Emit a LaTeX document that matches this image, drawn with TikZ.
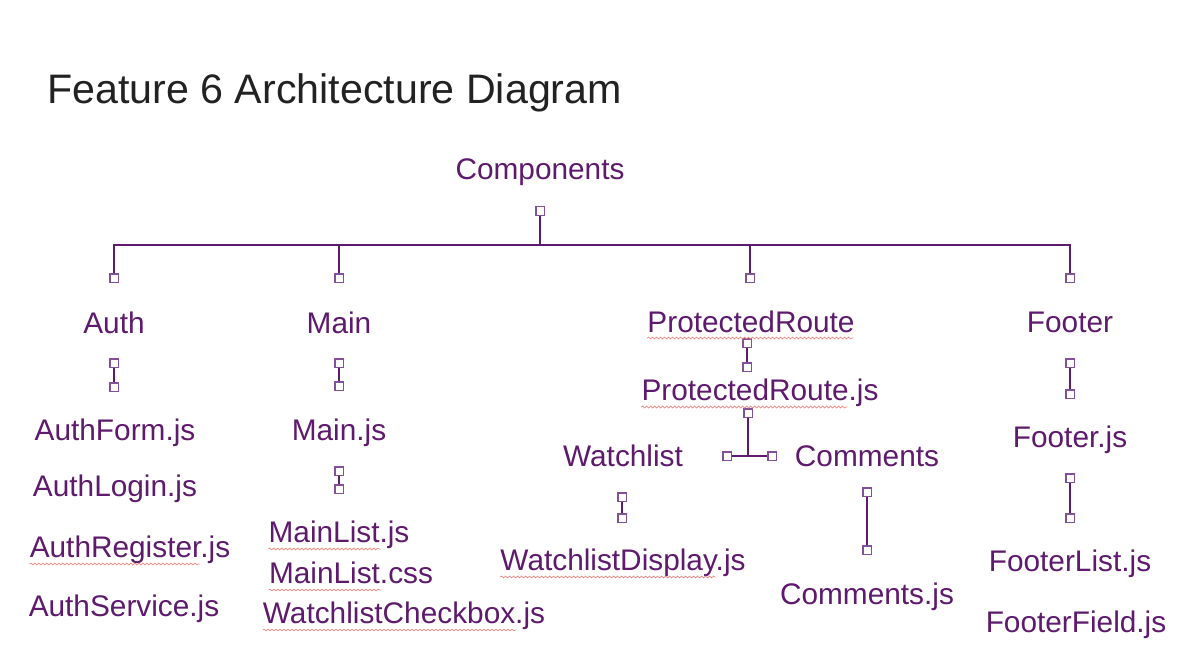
\documentclass[tikz,border=0pt]{standalone}
\usepackage{fontspec}
\setmainfont{Liberation Sans}
\usetikzlibrary{decorations.pathmorphing}
\definecolor{plum}{HTML}{5E1A6C}
\definecolor{pinline}{HTML}{84509A}
\definecolor{typored}{HTML}{F2847E}
\definecolor{ink}{HTML}{222222}

\begin{document}
\begin{tikzpicture}[x=1pt,y=-1pt,
  lbl/.style={text=plum,font=\fontsize{29.8}{34}\selectfont,inner sep=0pt,anchor=base},
  pin/.style={rectangle,draw=pinline,fill=white,line width=1.5pt,minimum size=8.5pt,inner sep=0pt},
  link/.style={draw=plum,line width=1.5pt},
  typo/.style={draw=typored,line width=0.7pt,decorate,decoration={snake,amplitude=0.9pt,segment length=4pt}}]
\useasboundingbox (0,0) rectangle (1180,647);
\node[anchor=base west,inner sep=0pt,text=ink,font=\fontsize{41.2}{46}\selectfont] (title) at (47,104) {Feature 6 Architecture Diagram};
% labels
\foreach \n/\x/\y/\t in %
{comp/540/180/Components, auth/114/333/Auth, main/339/333/Main,
 prot/751/332/ProtectedRoute, foot/1070/332/Footer,
 authform/115/440/AuthForm.js, authlogin/115/496/AuthLogin.js,
 authreg/130/557/AuthRegister.js, authserv/124/616/AuthService.js,
 mainjs/339/440/Main.js, mainlist/339/542/MainList.js,
 maincss/351/583/MainList.css, wlbox/404/623/WatchlistCheckbox.js,
 protjs/760/400/ProtectedRoute.js, watch/623/466/Watchlist,
 comm/867/466/Comments, wldisp/623/570/WatchlistDisplay.js,
 commjs/867/604/Comments.js, footjs/1070/447/Footer.js,
 footlist/1070/571/FooterList.js, footfield/1076/632/FooterField.js} {
   \node[lbl] (\n) at (\x,\y) {\t};
}
% connector ends
\foreach \n/\x/\y in %
{c0/540/211, a0/114/278, m0/339/278, p0/750/278, f0/1070/278,
 a1/114/363, a2/114/387, m1/339/363, m2/339/386,
 p1/747/343, p2/747/367, f1/1070/363, f2/1070/394,
 m3/339/471, m4/339/489, f3/1070/478, f4/1070/518,
 r0/748/413, rl/727/456, rr/772/456,
 w1/622/497, w2/622/518, k1/867/492, k2/867/550} {
   \node[pin] (\n) at (\x,\y) {};
}
\coordinate (bus) at (540,245);
\coordinate (fork) at (748,456);
\draw[link] (c0) -- (bus);
\draw[link] (a0) |- (bus) -| (f0);
\draw[link] (m0) -- (m0 |- bus);
\draw[link] (p0) -- (p0 |- bus);
\foreach \s/\e in {a1/a2,m1/m2,p1/p2,f1/f2,m3/m4,f3/f4,w1/w2,k1/k2,rl/rr} {
   \draw[link] (\s) -- (\e);
}
\draw[link] (r0) -- (fork);
% spell check marks
\draw[typo] ([yshift=-6pt]prot.base west) -- ++(206,0);
\draw[typo] ([yshift=-7pt]protjs.base west) -- ++(206,0);
\draw[typo] ([yshift=-7pt]authreg.base west) -- ++(170,0);
\draw[typo] ([yshift=-7pt]mainlist.base west) -- ++(112,0);
\draw[typo] ([yshift=-7pt]maincss.base west) -- ++(112,0);
\draw[typo] ([yshift=-7pt]wlbox.base west) -- ++(253,0);
\draw[typo] ([yshift=-7pt]wldisp.base west) -- ++(215,0);
\end{tikzpicture}
\end{document}
